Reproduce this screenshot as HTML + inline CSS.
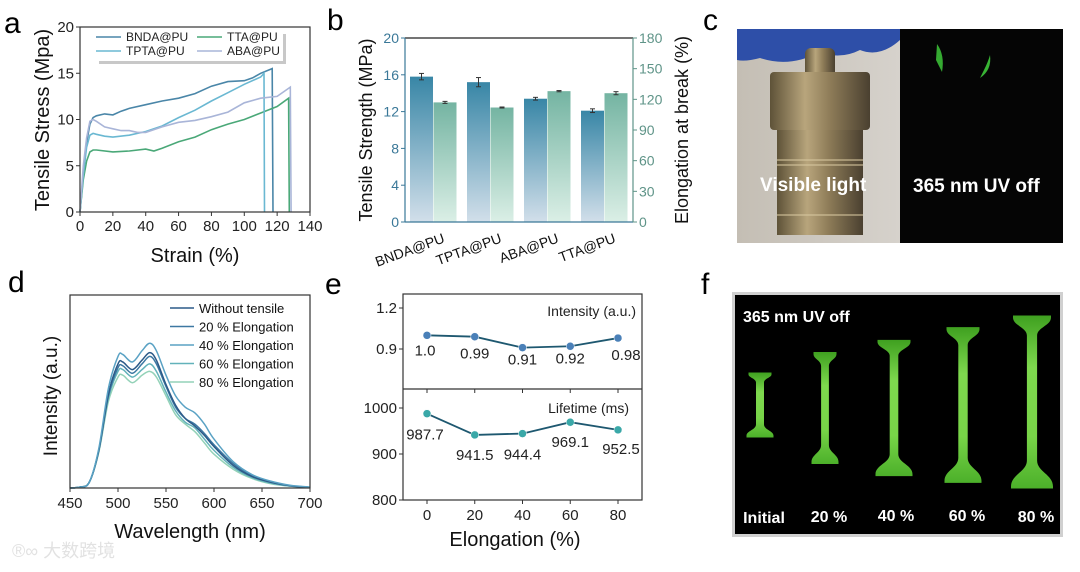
<!DOCTYPE html>
<html><head><meta charset="utf-8"><style>
html,body{margin:0;padding:0;background:#fff;}
svg{display:block;font-family:"Liberation Sans",Arial,sans-serif;}
</style></head><body>
<svg id="fig" width="1080" height="572" viewBox="0 0 1080 572" xmlns="http://www.w3.org/2000/svg">
<defs>
<linearGradient id="gBlue" x1="0" y1="0" x2="0" y2="1"><stop offset="0" stop-color="#3886a6"/><stop offset="1" stop-color="#d2dfea"/></linearGradient>
<linearGradient id="gGreen" x1="0" y1="0" x2="0" y2="1"><stop offset="0" stop-color="#74b4a2"/><stop offset="1" stop-color="#dbefe6"/></linearGradient>
<linearGradient id="gMetal" x1="0" y1="0" x2="1" y2="0"><stop offset="0" stop-color="#5e5238"/><stop offset="0.35" stop-color="#b8a57c"/><stop offset="0.6" stop-color="#8e7c58"/><stop offset="1" stop-color="#4a4030"/></linearGradient>
<linearGradient id="gBg" x1="0" y1="0" x2="1" y2="0"><stop offset="0" stop-color="#c4beb4"/><stop offset="1" stop-color="#d6d2cc"/></linearGradient>
<linearGradient id="gDog" x1="0" y1="0" x2="0" y2="1"><stop offset="0" stop-color="#3fa020"/><stop offset="0.3" stop-color="#7ed84e"/><stop offset="0.7" stop-color="#78d448"/><stop offset="1" stop-color="#4cb02a"/></linearGradient>
</defs>

<g font-size="30" fill="#000">
<text x="4" y="33">a</text>
<text x="327" y="30">b</text>
<text x="703" y="30">c</text>
<text x="8" y="292">d</text>
<text x="325" y="294">e</text>
<text x="701" y="294">f</text>
</g>

<g id="pa"></g>
<g id="pb"></g>

<g>
<rect x="737" y="29" width="164" height="214" fill="url(#gBg)"/>
<path d="M737 29 H900 V40 Q880 58 860 50 Q840 60 820 52 Q790 68 760 58 Q745 62 737 60 Z" fill="#2e4fa8"/>
<rect x="805" y="48" width="30" height="32" rx="6" fill="url(#gMetal)"/>
<rect x="770" y="72" width="100" height="58" rx="4" fill="url(#gMetal)"/>
<rect x="777" y="130" width="86" height="105" fill="url(#gMetal)"/>
<g stroke="#d8c8a0" stroke-width="1.5" opacity="0.7"><line x1="777" y1="160" x2="863" y2="160"/><line x1="777" y1="165" x2="863" y2="165"/><line x1="777" y1="215" x2="863" y2="215"/></g>
<rect x="900" y="29" width="163" height="214" fill="#050505"/>
<path d="M937 44 Q945 55 942 72 L936 60 Z" fill="#3ec83a" opacity="0.85"/>
<path d="M990 55 Q992 70 980 78 L984 70 Q988 62 990 55 Z" fill="#3ec83a" opacity="0.9"/>
<text x="760" y="191" font-size="19" font-weight="bold" fill="#fff">Visible light</text>
<text x="913" y="192" font-size="19" font-weight="bold" fill="#fff">365 nm UV off</text>
</g>

<g id="pd"></g>
<g id="pe"></g>

<g>
<rect x="732" y="292" width="331" height="245" fill="#d0d0d0"/>
<rect x="735" y="295" width="325" height="239" fill="#000"/>
<g id="dogs"></g>
<text x="743" y="322" font-size="16" font-weight="bold" fill="#fff">365 nm UV off</text>
<g font-size="16" font-weight="bold" fill="#fff" text-anchor="middle">
<text x="764" y="523">Initial</text>
<text x="829" y="522">20 %</text>
<text x="896" y="521">40 %</text>
<text x="967" y="521">60 %</text>
<text x="1036" y="522">80 %</text>
</g>
</g>

<text x="12" y="557" font-size="18" fill="#e2e2e2" font-family="'Liberation Sans','Noto Sans CJK SC',sans-serif">®∞ 大数跨境</text>
</svg>
<script>
const aSeriesNames = ["BNDA@PU","TTA@PU","TPTA@PU","ABA@PU"];
const aBndaX = [0,2,4,6,8,10,15,20,25,30,40,50,60,70,80,90,100,105,110,117,117.5];
const aBndaY = [0,4,7.5,9.5,10.2,10.4,10.6,10.5,10.9,11.2,11.6,12.0,12.3,12.8,13.6,14.1,14.2,14.5,15.0,15.5,0];
const aTptaX = [0,2,4,6,8,10,15,20,30,40,50,60,70,80,90,100,110,112,112.3];
const aTptaY = [0,4,7,8.3,8.5,8.4,8.2,8.1,8.3,8.7,9.3,10.2,11.0,12.0,12.9,13.8,14.6,15.0,0];
const aAbaX = [0,2,4,6,8,10,15,20,25,30,35,40,50,60,70,80,90,100,110,120,128,128.5];
const aAbaY = [0,5,8,9.8,10,9.8,9.2,9.0,8.8,8.8,8.6,8.6,9.2,9.7,9.9,10.3,10.8,11.8,12.3,12.5,13.5,0];
const aTtaX = [0,2,4,6,8,10,20,30,40,45,50,60,70,80,90,100,110,120,127,127.4];
const aTtaY = [0,3.5,5.5,6.5,6.7,6.7,6.5,6.6,6.8,6.6,6.9,7.6,8.1,8.9,9.5,10.0,10.7,11.4,12.3,0];
const aXTicks = [0,20,40,60,80,100,120,140];
const aYTicks = [0,5,10,15,20];

const bCategories = ["BNDA@PU","TPTA@PU","ABA@PU","TTA@PU"];
const bStrength = [15.8,15.2,13.4,12.1];
const bStrengthErr = [0.35,0.5,0.15,0.2];
const bElong = [117,112,128,126];
const bElongErr = [1,0.5,0.6,1.5];
const bLeftTicks = [0,4,8,12,16,20];
const bRightTicks = [0,30,60,90,120,150,180];

const dWave = [450,460,470,480,490,500,505,515,525,533,540,550,560,570,580,590,600,620,640,660,680,700];
const dSeriesNames = ["Without tensile","20 % Elongation","40 % Elongation","60 % Elongation","80 % Elongation"];
const dS0 = [0,0.005,0.03,0.2,0.5,0.66,0.67,0.63,0.68,0.72,0.68,0.55,0.44,0.37,0.33,0.28,0.22,0.12,0.06,0.03,0.012,0.004];
const dS1 = [0,0.005,0.03,0.2,0.49,0.64,0.65,0.61,0.66,0.70,0.66,0.54,0.43,0.37,0.34,0.29,0.23,0.13,0.065,0.03,0.012,0.004];
const dS2 = [0,0.005,0.03,0.21,0.53,0.70,0.71,0.67,0.73,0.77,0.73,0.60,0.49,0.43,0.40,0.34,0.26,0.14,0.07,0.035,0.014,0.005];
const dS3 = [0,0.005,0.03,0.2,0.48,0.62,0.63,0.59,0.63,0.66,0.62,0.51,0.41,0.35,0.32,0.26,0.20,0.11,0.055,0.025,0.01,0.004];
const dS4 = [0,0.005,0.03,0.19,0.46,0.59,0.60,0.56,0.60,0.62,0.59,0.49,0.39,0.34,0.30,0.24,0.18,0.10,0.05,0.022,0.01,0.004];
const dXTicks = [450,500,550,600,650,700];

const eElong = [0,20,40,60,80];
const eIntensity = [1.0,0.99,0.91,0.92,0.98];
const eIntensityLabels = ["1.0","0.99","0.91","0.92","0.98"];
const eLifetime = [987.7,941.5,944.4,969.1,952.5];
const eLifetimeLabels = ["987.7","941.5","944.4","969.1","952.5"];
const eTopTicks = [0.9,1.2];
const eBotTicks = [800,900,1000];

const fElong = [0,20,40,60,80];

const NS="http://www.w3.org/2000/svg";
function mk(parent,tag,attrs,text){const e=document.createElementNS(NS,tag);for(const k in attrs)e.setAttribute(k,attrs[k]);if(text!==undefined)e.textContent=text;parent.appendChild(e);return e;}

(function(){
const g=document.getElementById('pa');
const L=80,R=310,T=27,B=212;
const x=v=>L+(v/140)*(R-L), y=v=>B-(v/20)*(B-T);
const series=[[aBndaX,aBndaY,"#4a86a8"],[aTtaX,aTtaY,"#4aa878"],[aTptaX,aTptaY,"#6ab8d2"],[aAbaX,aAbaY,"#a9b5d8"]];
series.forEach((s,i)=>{
 const d=s[0].map((v,j)=>(j?'L':'M')+x(v).toFixed(1)+' '+y(s[1][j]).toFixed(1)).join(' ');
 const p=mk(g,'path',{d:d,fill:'none',stroke:s[2],'stroke-width':1.6});
 
 
});
mk(g,'rect',{x:L,y:T,width:R-L,height:B-T,fill:'none',stroke:'#333','stroke-width':1.2});
aXTicks.forEach(v=>{mk(g,'line',{x1:x(v),x2:x(v),y1:B,y2:B+4,stroke:'#333'});
 const t=mk(g,'text',{x:x(v),y:B+19,'font-size':15,'text-anchor':'middle',fill:'#222'},v);
 });
aYTicks.forEach(v=>{mk(g,'line',{x1:L-4,x2:L,y1:y(v),y2:y(v),stroke:'#333'});
 const t=mk(g,'text',{x:L-6,y:y(v)+5,'font-size':15,'text-anchor':'end',fill:'#222'},v);
 });
const xt=mk(g,'text',{x:195,y:262,'font-size':20,'text-anchor':'middle',fill:'#111'},'Strain (%)');

const yt=mk(g,'text',{x:0,y:0,'font-size':20,'text-anchor':'middle',fill:'#111',transform:'translate(49,120) rotate(-90)'},'Tensile Stress (Mpa)');

const lg=mk(g,'g',{});

mk(lg,'rect',{x:99,y:34,width:187,height:30,fill:'#c8c8c8'});
mk(lg,'rect',{x:96,y:31,width:187,height:30,fill:'#fff'});
const pos=[[96,41],[197,41],[96,55],[197,55]];
const cols=["#4a86a8","#4aa878","#6ab8d2","#a9b5d8"];
aSeriesNames.forEach((n,i)=>{
 mk(lg,'line',{x1:pos[i][0],x2:pos[i][0]+25,y1:pos[i][1]-4,y2:pos[i][1]-4,stroke:cols[i],'stroke-width':1.6});
 const t=mk(lg,'text',{x:pos[i][0]+30,y:pos[i][1],'font-size':12,fill:'#222'},n);
 
});
})();

(function(){
const g=document.getElementById('pb');
const L=405,R=633,T=38,B=222;
const yl=v=>B-(v/20)*(B-T), yr=v=>B-(v/180)*(B-T);
const gw=(R-L)/4, bw=23;
bCategories.forEach((c,i)=>{
 const cx=L+gw*i+gw/2;
 const bx=cx-bw-0.5;
 const b1=mk(g,'rect',{x:bx,y:yl(bStrength[i]),width:bw,height:B-yl(bStrength[i]),fill:'url(#gBlue)'});
 
 const b2=mk(g,'rect',{x:cx,y:yr(bElong[i]),width:bw,height:B-yr(bElong[i]),fill:'url(#gGreen)'});
 
 [[bx+bw/2,yl(bStrength[i]+bStrengthErr[i]),yl(bStrength[i]-bStrengthErr[i])],[cx+bw/2,yr(bElong[i]+bElongErr[i]),yr(bElong[i]-bElongErr[i])]].forEach(e=>{
  mk(g,'line',{x1:e[0],x2:e[0],y1:e[1],y2:e[2],stroke:'#333','stroke-width':1});
  mk(g,'line',{x1:e[0]-2.5,x2:e[0]+2.5,y1:e[1],y2:e[1],stroke:'#333','stroke-width':1});
  mk(g,'line',{x1:e[0]-2.5,x2:e[0]+2.5,y1:e[2],y2:e[2],stroke:'#333','stroke-width':1});
 });
 const t=mk(g,'text',{x:0,y:0,'font-size':14,'text-anchor':'end',fill:'#111',transform:`translate(${cx+12},${B+20}) rotate(-20)`},c);
 
});
mk(g,'line',{x1:L,x2:R,y1:T,y2:T,stroke:'#222','stroke-width':1.2});
mk(g,'line',{x1:L,x2:R,y1:B,y2:B,stroke:'#3a7898','stroke-width':1.2});
mk(g,'line',{x1:L,x2:L,y1:T,y2:B,stroke:'#3a7898','stroke-width':1.2});
mk(g,'line',{x1:R,x2:R,y1:T,y2:B,stroke:'#5f9488','stroke-width':1.2});
bLeftTicks.forEach(v=>{mk(g,'line',{x1:L-4,x2:L,y1:yl(v),y2:yl(v),stroke:'#3a7898'});
 const t=mk(g,'text',{x:L-6,y:yl(v)+5,'font-size':14,'text-anchor':'end',fill:'#3a7898'},v);
 });
bRightTicks.forEach(v=>{mk(g,'line',{x1:R,x2:R+4,y1:yr(v),y2:yr(v),stroke:'#5f9488'});
 const t=mk(g,'text',{x:R+6,y:yr(v)+5,'font-size':14,fill:'#5f9488'},v);
 });
const t1=mk(g,'text',{x:0,y:0,'font-size':18,'text-anchor':'middle',fill:'#111',transform:'translate(372,130) rotate(-90)'},'Tensile Strength (MPa)');

const t2=mk(g,'text',{x:0,y:0,'font-size':18,'text-anchor':'middle',fill:'#111',transform:'translate(688,130) rotate(-90)'},'Elongation at break (%)');

})();

(function(){
const g=document.getElementById('pd');
const L=70,R=310,T=295,B=488;
const x=v=>L+(v-450)/250*(R-L), y=v=>B-v*188;
const series=[dS0,dS1,dS2,dS3,dS4];
const cols=["#2c5a88","#3d78a2","#5aa2c4","#62b2ba","#94d2b8"];
function smooth(pts){let d='M'+pts[0][0]+' '+pts[0][1];for(let i=0;i<pts.length-1;i++){const p0=pts[i-1]||pts[i],p1=pts[i],p2=pts[i+1],p3=pts[i+2]||p2;
 const c1x=p1[0]+(p2[0]-p0[0])/6,c1y=p1[1]+(p2[1]-p0[1])/6,c2x=p2[0]-(p3[0]-p1[0])/6,c2y=p2[1]-(p3[1]-p1[1])/6;
 d+=` C${c1x.toFixed(1)} ${c1y.toFixed(1)} ${c2x.toFixed(1)} ${c2y.toFixed(1)} ${p2[0].toFixed(1)} ${p2[1].toFixed(1)}`;}return d;}
[4,3,1,0,2].forEach(i=>{
 const pts=dWave.map((w,j)=>[x(w),y(series[i][j])]);
 const p=mk(g,'path',{d:smooth(pts),fill:'none',stroke:cols[i],'stroke-width':1.5});
 
});
mk(g,'rect',{x:L,y:T,width:R-L,height:B-T,fill:'none',stroke:'#333','stroke-width':1.2});
dXTicks.forEach(v=>{mk(g,'line',{x1:x(v),x2:x(v),y1:B,y2:B+4,stroke:'#333'});
 const t=mk(g,'text',{x:x(v),y:B+20,'font-size':15,'text-anchor':'middle',fill:'#222'},v);
 });
dSeriesNames.forEach((n,i)=>{const yy=308+i*18.5;
 mk(g,'line',{x1:170,x2:194,y1:yy,y2:yy,stroke:cols[i],'stroke-width':1.6});
 const t=mk(g,'text',{x:199,y:yy+5,'font-size':13,fill:'#111'},n);
 });
const xt=mk(g,'text',{x:190,y:538,'font-size':20,'text-anchor':'middle',fill:'#111'},'Wavelength (nm)');

const yt=mk(g,'text',{x:0,y:0,'font-size':19,'text-anchor':'middle',fill:'#111',transform:'translate(57,396) rotate(-90)'},'Intensity (a.u.)');

})();

(function(){
const g=document.getElementById('pe');
const L=403,R=642,T=294,M=389,B=500;
const x=v=>427+v/80*(618-427);
const yt=v=>308+(1.2-v)/0.3*41;
const yb=v=>408+(1000-v)/100*46;
mk(g,'rect',{x:L,y:T,width:R-L,height:B-T,fill:'none',stroke:'#333','stroke-width':1.2});
mk(g,'line',{x1:L,x2:R,y1:M,y2:M,stroke:'#333','stroke-width':1.2});
eElong.forEach(v=>{mk(g,'line',{x1:x(v),x2:x(v),y1:B,y2:B+4,stroke:'#333'});mk(g,'line',{x1:x(v),x2:x(v),y1:M,y2:M+4,stroke:'#333'});
 const t=mk(g,'text',{x:x(v),y:B+20,'font-size':15,'text-anchor':'middle',fill:'#222'},v);
 });
eTopTicks.forEach(v=>{mk(g,'line',{x1:L-4,x2:L,y1:yt(v),y2:yt(v),stroke:'#333'});
 const t=mk(g,'text',{x:L-6,y:yt(v)+5,'font-size':15,'text-anchor':'end',fill:'#222'},v.toFixed(1));
 });
eBotTicks.forEach(v=>{mk(g,'line',{x1:L-4,x2:L,y1:yb(v),y2:yb(v),stroke:'#333'});
 const t=mk(g,'text',{x:L-6,y:yb(v)+5,'font-size':15,'text-anchor':'end',fill:'#222'},v);
 });
const p1=mk(g,'polyline',{points:eElong.map((v,i)=>x(v)+','+yt(eIntensity[i])).join(' '),fill:'none',stroke:'#1e5870','stroke-width':1.8});

const p2=mk(g,'polyline',{points:eElong.map((v,i)=>x(v)+','+yb(eLifetime[i])).join(' '),fill:'none',stroke:'#1e5870','stroke-width':1.8});

const offI=[20,22,17,17,22];
eElong.forEach((v,i)=>{
 const c=mk(g,'circle',{cx:x(v),cy:yt(eIntensity[i]),r:4,fill:'#4a80b8',stroke:'#fff','stroke-width':0.5});
 
 const t=mk(g,'text',{x:x(v)+(i==4?8:i==0?-2:0),y:yt(eIntensity[i])+offI[i],'font-size':15,'text-anchor':'middle',fill:'#222'},eIntensityLabels[i]);
 
 const c2=mk(g,'circle',{cx:x(v),cy:yb(eLifetime[i]),r:4,fill:'#3aa8a8',stroke:'#fff','stroke-width':0.5});
 
 const off=[26,25,26,25,24][i];
 const t2=mk(g,'text',{x:x(v)+(i==4?3:i==0?-2:0),y:yb(eLifetime[i])+off,'font-size':15,'text-anchor':'middle',fill:'#222'},eLifetimeLabels[i]);
 
});
const a=mk(g,'text',{x:636,y:316,'font-size':14,'text-anchor':'end',fill:'#222'},'Intensity (a.u.)');

const b=mk(g,'text',{x:629,y:413,'font-size':14,'text-anchor':'end',fill:'#222'},'Lifetime (ms)');

const xt=mk(g,'text',{x:515,y:546,'font-size':20,'text-anchor':'middle',fill:'#111'},'Elongation (%)');

})();

(function(){
const g=document.getElementById('dogs');
const cxs=[760,825,894,963,1032];
const tipW=[23,23,33,33,38], centerY=[405,408,408,405,402];
fElong.forEach((e,i)=>{
 const len=65+47*Math.pow(e/20,0.6);
 const top=centerY[i]-len/2, bot=centerY[i]+len/2, cx=cxs[i], w=tipW[i]/2, n=i==0?4:3.5+i*0.4;
 const ht=i==0?10:12+i*2, hb=i==0?13:16+i*3, wb=w+2;
 const d=`M${cx-w} ${top} H${cx+w} V${top+2} C${cx+w} ${top+ht*0.5} ${cx+n} ${top+ht*0.6} ${cx+n} ${top+ht} `+
  `V${bot-hb} C${cx+n} ${bot-hb*0.6} ${cx+wb} ${bot-hb*0.5} ${cx+wb} ${bot-2} V${bot} H${cx-wb} V${bot-2} `+
  `C${cx-wb} ${bot-hb*0.5} ${cx-n} ${bot-hb*0.6} ${cx-n} ${bot-hb} V${top+ht} C${cx-n} ${top+ht*0.6} ${cx-w} ${top+ht*0.5} ${cx-w} ${top+2} Z`;
 const p=mk(g,'path',{d:d,fill:'url(#gDog)'});
 
 
});
})();
</script>
</body></html>
